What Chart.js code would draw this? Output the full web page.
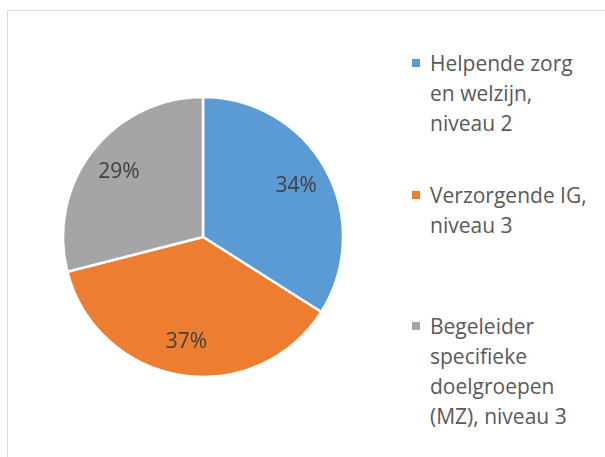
<!DOCTYPE html>
<html>
<head>
<meta charset="utf-8">
<script src="https://cdn.jsdelivr.net/npm/chart.js@4"></script>
<style>
  body { margin: 0; background: #fff; font-family: "Open Sans", sans-serif; }
  #frame {
    position: absolute; left: 7px; top: 10px; width: 640px; height: 500px;
    border: 1px solid #d9d9d9; box-sizing: border-box;
  }
  #pie { position: absolute; left: 53px; top: 87px; }
  .item {
    position: absolute; left: 430px; color: #595959;
    font-size: 21px; line-height: 30px; white-space: nowrap;
  }
  .item .box {
    position: absolute; left: -18px; top: 11px; width: 8px; height: 8px;
  }
</style>
</head>
<body>
<div id="frame"></div>
<canvas id="pie" width="300" height="300"></canvas>
<div id="legend"></div>
<script>
// shares per opleiding
const labels = [
  ['Helpende zorg', 'en welzijn,', 'niveau 2'],
  ['Verzorgende IG,', 'niveau 3'],
  ['Begeleider', 'specifieke', 'doelgroepen', '(MZ), niveau 3']
];
const values = [34, 37, 29];
const colors = ['#5B9BD5', '#ED7D31', '#A5A5A5'];
const legendTops = [48, 180, 311];

// percentage labels inside the slices
const sliceLabels = {
  id: 'sliceLabels',
  afterDatasetsDraw(chart) {
    const ctx = chart.ctx;
    const data = chart.data.datasets[0].data;
    const total = data.reduce((a, b) => a + b, 0);
    ctx.save();
    ctx.font = '21px "Open Sans"';
    ctx.fillStyle = '#404040';
    ctx.textAlign = 'center';
    ctx.textBaseline = 'middle';
    chart.getDatasetMeta(0).data.forEach((arc, i) => {
      const mid = (arc.startAngle + arc.endAngle) / 2;
      const r = arc.outerRadius * 0.76;
      const x = arc.x + Math.cos(mid) * r;
      const y = arc.y + Math.sin(mid) * r;
      ctx.fillText(Math.round(data[i] / total * 100) + '%', x, y);
    });
    ctx.restore();
  }
};

new Chart(document.getElementById('pie'), {
  type: 'pie',
  data: {
    labels: labels.map(l => l.join(' ')),
    datasets: [{
      data: values,
      backgroundColor: colors,
      borderColor: '#ffffff',
      borderWidth: 2.5
    }]
  },
  options: {
    responsive: false,
    animation: false,
    radius: 140,
    plugins: {
      legend: { display: false },
      tooltip: { enabled: false }
    }
  },
  plugins: [sliceLabels]
});

// legend on the right
const legend = document.getElementById('legend');
labels.forEach((lines, i) => {
  const item = document.createElement('div');
  item.className = 'item';
  item.style.top = legendTops[i] + 'px';
  const box = document.createElement('span');
  box.className = 'box';
  box.style.background = colors[i];
  item.appendChild(box);
  lines.forEach((t, j) => {
    if (j) item.appendChild(document.createElement('br'));
    item.appendChild(document.createTextNode(t));
  });
  legend.appendChild(item);
});
</script>
</body>
</html>
